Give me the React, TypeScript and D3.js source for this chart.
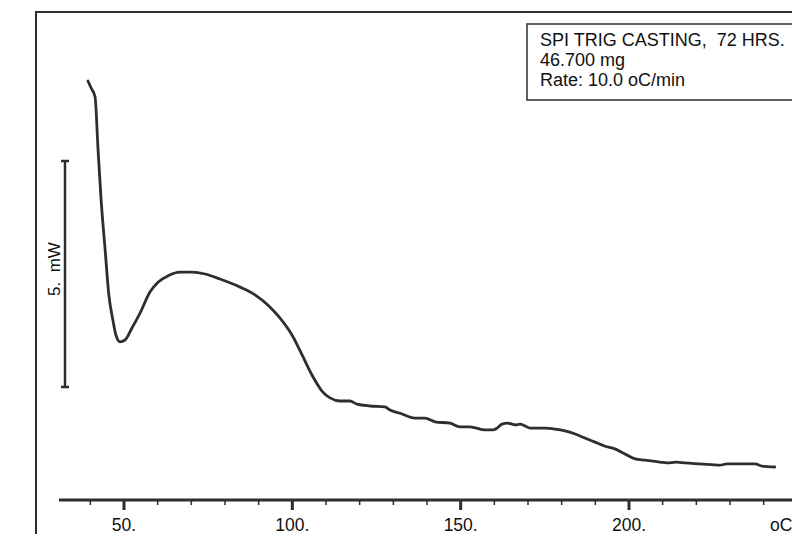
import * as d3 from 'd3'

// DSC trace: temperature (oC) vs heat flow (mW, arbitrary offset)
const temps: number[] = [
  39.3, 40.2, 41.4, 42.3, 43.2, 44.4, 45.5, 46.7, 47.6, 48.8, 50.3, 52.4, 54.8, 57.7, 60.1,
  63.1, 66.6, 70.2, 74.1, 78.5, 84.5, 88.9, 92.8, 96.3, 99.9, 102.9, 105.8, 108.8, 111.2,
  114.2, 117.1, 119.2, 123.1, 127.5, 129.0, 132.0, 136.4, 139.4, 142.4, 146.8, 149.8, 152.8,
  157.2, 159.6, 160.8, 162.3, 163.8, 165.2, 166.4, 167.6, 169.1, 170.6, 175.0, 178.0, 181.0,
  184.0, 186.9, 189.9, 192.9, 195.8, 198.8, 201.8, 204.7, 209.2, 212.2, 214.2, 216.6, 221.1,
  227.0, 229.1, 234.4, 237.4, 239.5, 243.3,
]
const heatFlow: number[] = [
  9.27, 9.12, 8.92, 7.74, 6.64, 5.53, 4.54, 3.98, 3.65, 3.5, 3.54, 3.81, 4.14, 4.6, 4.82,
  4.96, 5.04, 5.04, 5.0, 4.89, 4.71, 4.54, 4.31, 4.03, 3.65, 3.21, 2.77, 2.41, 2.26,
  2.19, 2.19, 2.12, 2.08, 2.06, 1.99, 1.92, 1.81, 1.81, 1.73, 1.7, 1.62, 1.62,
  1.55, 1.55, 1.59, 1.68, 1.7, 1.68, 1.66, 1.68, 1.64, 1.59, 1.59, 1.57, 1.53,
  1.46, 1.37, 1.28, 1.19, 1.13, 1.02, 0.91, 0.88, 0.84, 0.82, 0.84, 0.82, 0.8,
  0.77, 0.8, 0.8, 0.8, 0.75, 0.73,
]

const majorTicks: number[] = [50, 100, 150, 200]
const majorLabels: string[] = ['50.', '100.', '150.', '200.']
const minorTicks: number[] = d3.range(40, 250, 10)
const unitLabel = 'oC'

// 5 mW scale bar
const scaleBar: number[] = [2.5, 7.5]
const scaleLabel = '5.  mW'

const legendLines: string[] = ['SPI TRIG CASTING,  72 HRS.', '46.700 mg', 'Rate: 10.0 oC/min']

const ink = '#2e2e2e'
const font = '"Liberation Sans", Arial, Helvetica, sans-serif'

export default function App() {
  const width = 792
  const height = 534

  const x = d3.scaleLinear().domain([50, 200]).range([124, 629])
  const y = d3.scaleLinear().domain([0, 10]).range([500, 48])

  const pts: [number, number][] = temps.map((t, i) => [t, heatFlow[i]])
  const line = d3
    .line<[number, number]>()
    .x(d => x(d[0]))
    .y(d => y(d[1]))
    .curve(d3.curveMonotoneX)

  const axisY = y(0)

  return (
    <svg
      width={width}
      height={height}
      style={{ position: 'fixed', left: 0, top: 0, background: '#fff' }}
      fontFamily={font}
    >
      {/* frame */}
      <path d={`M36,${height} V12 H${width}`} fill="none" stroke={ink} strokeWidth={2} />

      {/* legend box */}
      <rect x={527} y={24} width={275} height={76} fill="#fff" stroke={ink} strokeWidth={1.5} />
      {legendLines.map((s, i) => (
        <text key={i} x={540} y={46 + i * 20} fontSize={18} fill="#111" style={{ whiteSpace: 'pre' }}>
          {s}
        </text>
      ))}

      {/* scale bar */}
      <g stroke={ink} strokeWidth={2.5}>
        <line x1={65} x2={65} y1={y(scaleBar[0])} y2={y(scaleBar[1])} />
        <line x1={61} x2={69} y1={y(scaleBar[0])} y2={y(scaleBar[0])} />
        <line x1={61} x2={69} y1={y(scaleBar[1])} y2={y(scaleBar[1])} />
      </g>
      <text
        transform={`translate(60,269) rotate(-90)`}
        textAnchor="middle"
        fontSize={17}
        fill="#111"
        style={{ whiteSpace: 'pre' }}
      >
        {scaleLabel}
      </text>

      {/* x axis */}
      <line x1={59} x2={width} y1={axisY} y2={axisY} stroke={ink} strokeWidth={3} />
      {minorTicks.map(t => (
        <line key={t} x1={x(t)} x2={x(t)} y1={axisY} y2={axisY + 5} stroke={ink} strokeWidth={1.5} />
      ))}
      {majorTicks.map(t => (
        <line key={t} x1={x(t)} x2={x(t)} y1={axisY} y2={axisY + 10} stroke={ink} strokeWidth={3} />
      ))}
      {majorTicks.map((t, i) => (
        <text key={t} x={x(t)} y={531} textAnchor="middle" fontSize={17.5} fill="#111">
          {majorLabels[i]}
        </text>
      ))}
      <text x={770} y={531} fontSize={17.5} fill="#111">
        {unitLabel}
      </text>

      {/* trace */}
      <path d={line(pts) ?? ''} fill="none" stroke={ink} strokeWidth={2.8} strokeLinejoin="round" strokeLinecap="round" />
    </svg>
  )
}
